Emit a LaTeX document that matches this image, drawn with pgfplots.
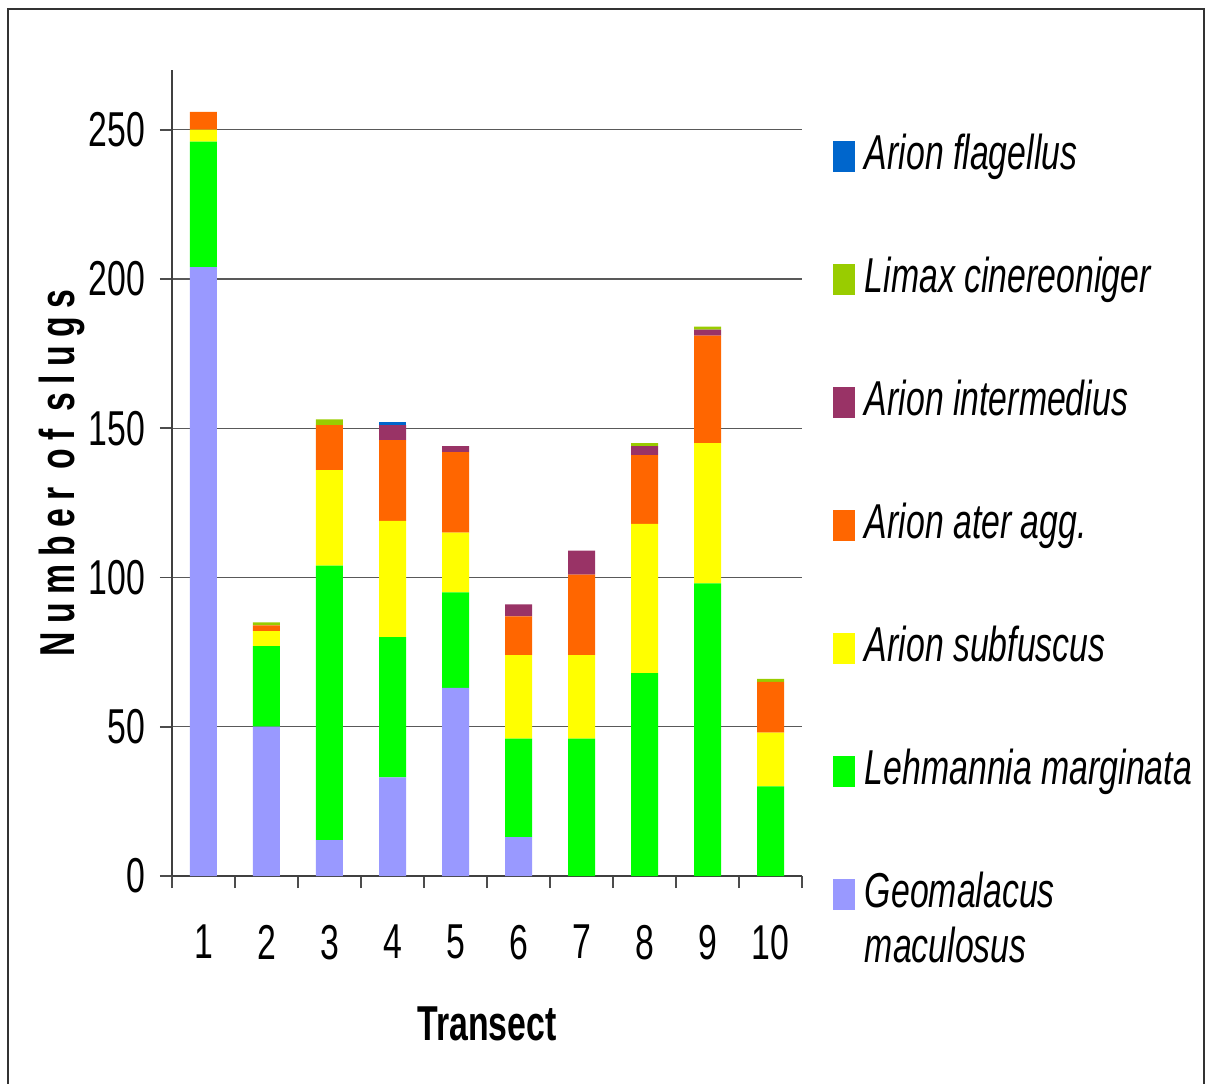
\documentclass[border=0pt]{standalone}
\usepackage{fontspec}
\setmainfont{Liberation Sans}[FakeStretch=0.69]
\usepackage{pgfplots}
\pgfplotsset{compat=1.18}
\definecolor{cG}{HTML}{9999FF}
\definecolor{cL}{HTML}{00FF00}
\definecolor{cS}{HTML}{FFFF00}
\definecolor{cA}{HTML}{FF6600}
\definecolor{cI}{HTML}{993366}
\definecolor{cX}{HTML}{99CC00}
\definecolor{cF}{HTML}{0066CC}
\newcommand{\fs}{\fontsize{24.5}{27.5}\selectfont}
\newfontfamily\labfont[FakeStretch=0.69,LetterSpace=17]{Liberation Sans}
\pgfplotstableread{
x G L S A I X F
1 204 42 4 6 0 0 0
2 50 27 5 2 0 1 0
3 12 92 32 15 0 2 0
4 33 47 39 27 5 0 1
5 63 32 20 27 2 0 0
6 13 33 28 13 4 0 0
7 0 46 28 27 8 0 0
8 0 68 50 23 3 1 0
9 0 98 47 36 2 1 0
10 0 30 18 17 0 1 0
}\data
\begin{document}
\begin{tikzpicture}
\path[use as bounding box] (-86pt,-103.5pt) rectangle (516.5pt,438pt);
\draw[line width=1pt, color=black!80] (-82pt,-110pt) -- (-82pt,433.5pt) -- (516pt,433.5pt) -- (516pt,-110pt);
\begin{axis}[
  scale only axis, width=315pt, height=403pt,
  ybar stacked, bar width=13.5pt,
  xmin=0.5, xmax=10.5, ymin=0, ymax=270,
  axis lines*=left,
  axis line style={black!75, line width=0.8pt},
  xtick={0.5,1.5,...,10.5}, xticklabels={},
  extra x ticks={1,2,...,10},
  extra x tick labels={1,2,3,4,5,6,7,8,9,10},
  extra x tick style={major tick length=0pt, grid=none},
  ytick={0,50,...,250},
  ymajorgrids, major grid style={black!65, line width=0.7pt},
  tick align=outside,
  major tick length=6pt,
  tick style={black!70, line width=0.8pt},
  /pgf/number format/assume math mode=true,
  tick label style={font=\fs},
  xticklabel style={yshift=-21pt},
  yticklabel style={xshift=-4pt},
  xlabel={\fs\bfseries Transect},
  ylabel={\fs\labfont\bfseries Number of slugs},
  xlabel style={at={(axis description cs:0.5,0)}, anchor=base, yshift=-82pt},
  ylabel style={at={(axis description cs:0,0.5)}, anchor=center, yshift=55pt},
  reverse legend,
  legend cell align=left,
  legend style={draw=none, fill=none, inner sep=0pt, outer sep=0pt,
    at={(1.0492,0.9256)}, anchor=north west,
    font=\fs\itshape,
    cells={anchor=base west},
    nodes={inner sep=0pt, text height=20pt, text depth=5pt},
    row sep=36.5pt, column sep=5pt},
  legend image code/.code={\fill[#1] (0pt,-1pt) rectangle (11pt,14.5pt);},
]
\addplot[fill=cG, draw=none] table[x=x,y=G]{\data};
\addplot[fill=cL, draw=none] table[x=x,y=L]{\data};
\addplot[fill=cS, draw=none] table[x=x,y=S]{\data};
\addplot[fill=cA, draw=none] table[x=x,y=A]{\data};
\addplot[fill=cI, draw=none] table[x=x,y=I]{\data};
\addplot[fill=cX, draw=none] table[x=x,y=X]{\data};
\addplot[fill=cF, draw=none] table[x=x,y=F]{\data};
\legend{{\vtop{\hbox{Geomalacus}\hbox{maculosus}}},Lehmannia marginata,Arion subfuscus,Arion ater agg.,Arion intermedius,Limax cinereoniger,Arion flagellus}
\end{axis}
\end{tikzpicture}
\end{document}
